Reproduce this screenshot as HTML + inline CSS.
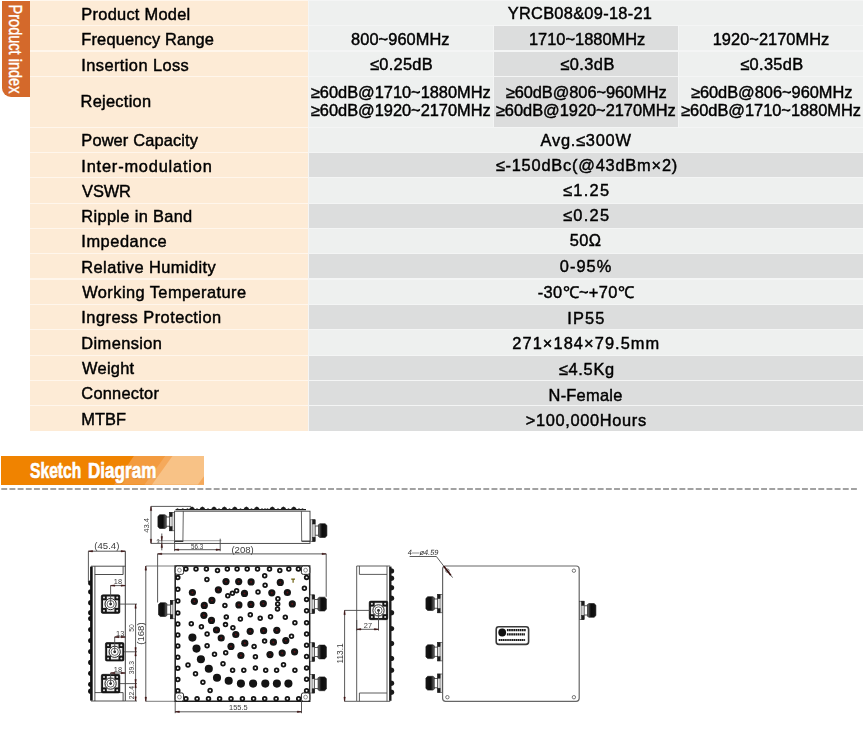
<!DOCTYPE html>
<html><head><meta charset="utf-8"><title>Product index</title>
<style>
html,body{margin:0;padding:0;background:#fff}
#page{position:relative;width:865px;height:754px;overflow:hidden;background:#fff;font-family:"Liberation Sans",sans-serif}
.c{position:absolute}
#lab{position:absolute;left:30.3px;top:0;width:278.0px;height:431.3px;background:#fff6ec}
#val{position:absolute;left:308.3px;top:0;width:554.9000000000001px;height:431.3px;background:#f4f5f5}
.t{position:absolute;white-space:nowrap;font-size:16.4px;line-height:1;color:#000;-webkit-text-stroke:0.45px #000}
#tab{position:absolute;left:1.5px;top:0.5px;width:28.5px;height:96.5px;background:#d4692b;border-radius:0 0 0 9px}
#tab span{position:absolute;left:calc(50% - 1.3px);top:50%;color:#fff;font-size:17.5px;white-space:nowrap;line-height:1;-webkit-text-stroke:0.4px #fff;transform:translate(-50%,-50%) rotate(90deg) scaleX(0.83)}
#ban{position:absolute;left:1px;top:456.1px;width:203.4px;height:28.8px;background:#f08300;overflow:hidden}
#ban i{position:absolute;top:0;height:100%;display:block}
#ban b{position:absolute;left:0;top:3.5px;color:#fff;font-size:22.2px;line-height:1;white-space:nowrap;-webkit-text-stroke:0.7px #fff;text-shadow:0.5px 0.7px 0.8px rgba(190,95,0,.5)}
#ban b span{position:absolute;top:0;display:block;transform-origin:0 50%}
#ban .w1{left:29.3px;transform:scaleX(0.705)}
#ban .w2{left:86.8px;transform:scaleX(0.77)}
#dash{position:absolute;left:0;top:486.3px}
#draw{position:absolute;left:0;top:0}
#txt{position:absolute;left:0;top:0;width:865px;height:440px;will-change:transform}
</style></head><body>
<div id="page">
<div id="tab"><span>Product index</span></div>
<div id="lab"></div><div id="val"></div>
<div class="c" style="top:0.70px;height:24.40px;left:308.90px;width:554.30px;background:#eef0ef"></div>
<div class="c" style="top:0.70px;height:24.40px;left:30.30px;width:277.60px;background:#fdebd6"></div>
<div class="c" style="top:26.10px;height:24.40px;left:308.90px;width:184.40px;background:#eef0ef"></div>
<div class="c" style="top:26.10px;height:24.40px;left:494.10px;width:183.80px;background:#dcdddd"></div>
<div class="c" style="top:26.10px;height:24.40px;left:678.90px;width:184.30px;background:#eef0ef"></div>
<div class="c" style="top:26.10px;height:24.40px;left:30.30px;width:277.60px;background:#fdebd6"></div>
<div class="c" style="top:51.50px;height:24.30px;left:308.90px;width:184.40px;background:#eef0ef"></div>
<div class="c" style="top:51.50px;height:24.30px;left:494.10px;width:183.80px;background:#dcdddd"></div>
<div class="c" style="top:51.50px;height:24.30px;left:678.90px;width:184.30px;background:#eef0ef"></div>
<div class="c" style="top:51.50px;height:24.30px;left:30.30px;width:277.60px;background:#fdebd6"></div>
<div class="c" style="top:76.80px;height:49.90px;left:308.90px;width:184.40px;background:#eef0ef"></div>
<div class="c" style="top:76.80px;height:49.90px;left:494.10px;width:183.80px;background:#dcdddd"></div>
<div class="c" style="top:76.80px;height:49.90px;left:678.90px;width:184.30px;background:#eef0ef"></div>
<div class="c" style="top:76.80px;height:49.90px;left:30.30px;width:277.60px;background:#fdebd6"></div>
<div class="c" style="top:127.70px;height:24.30px;left:308.90px;width:554.30px;background:#eef0ef"></div>
<div class="c" style="top:127.70px;height:24.30px;left:30.30px;width:277.60px;background:#fdebd6"></div>
<div class="c" style="top:153.00px;height:24.30px;left:308.90px;width:554.30px;background:#dcdddd"></div>
<div class="c" style="top:153.00px;height:24.30px;left:30.30px;width:277.60px;background:#fdebd6"></div>
<div class="c" style="top:178.30px;height:24.40px;left:308.90px;width:554.30px;background:#eef0ef"></div>
<div class="c" style="top:178.30px;height:24.40px;left:30.30px;width:277.60px;background:#fdebd6"></div>
<div class="c" style="top:203.70px;height:24.30px;left:308.90px;width:554.30px;background:#dcdddd"></div>
<div class="c" style="top:203.70px;height:24.30px;left:30.30px;width:277.60px;background:#fdebd6"></div>
<div class="c" style="top:229.00px;height:24.30px;left:308.90px;width:554.30px;background:#eef0ef"></div>
<div class="c" style="top:229.00px;height:24.30px;left:30.30px;width:277.60px;background:#fdebd6"></div>
<div class="c" style="top:254.30px;height:24.20px;left:308.90px;width:554.30px;background:#dcdddd"></div>
<div class="c" style="top:254.30px;height:24.20px;left:30.30px;width:277.60px;background:#fdebd6"></div>
<div class="c" style="top:279.50px;height:24.20px;left:308.90px;width:554.30px;background:#eef0ef"></div>
<div class="c" style="top:279.50px;height:24.20px;left:30.30px;width:277.60px;background:#fdebd6"></div>
<div class="c" style="top:304.70px;height:24.30px;left:308.90px;width:554.30px;background:#dcdddd"></div>
<div class="c" style="top:304.70px;height:24.30px;left:30.30px;width:277.60px;background:#fdebd6"></div>
<div class="c" style="top:330.00px;height:24.50px;left:308.90px;width:554.30px;background:#eef0ef"></div>
<div class="c" style="top:330.00px;height:24.50px;left:30.30px;width:277.60px;background:#fdebd6"></div>
<div class="c" style="top:355.50px;height:24.30px;left:308.90px;width:554.30px;background:#dcdddd"></div>
<div class="c" style="top:355.50px;height:24.30px;left:30.30px;width:277.60px;background:#fdebd6"></div>
<div class="c" style="top:380.80px;height:24.40px;left:308.90px;width:554.30px;background:#dcdddd"></div>
<div class="c" style="top:380.80px;height:24.40px;left:30.30px;width:277.60px;background:#fdebd6"></div>
<div class="c" style="top:406.20px;height:24.60px;left:308.90px;width:554.30px;background:#dcdddd"></div>
<div class="c" style="top:406.20px;height:24.60px;left:30.30px;width:277.60px;background:#fdebd6"></div>
<div id="txt">
<span class="t" id="t0" style="left:81.32px;top:5.92px;letter-spacing:0.270px">Product Model</span>
<span class="t" id="t1" style="left:81.32px;top:31.32px;letter-spacing:0.167px">Frequency Range</span>
<span class="t" id="t2" style="left:81.32px;top:56.82px;letter-spacing:0.415px">Insertion Loss</span>
<span class="t" id="t3" style="left:80.56px;top:92.62px;letter-spacing:0.270px">Rejection</span>
<span class="t" id="t4" style="left:81.32px;top:132.22px;letter-spacing:0.138px">Power Capacity</span>
<span class="t" id="t5" style="left:81.32px;top:157.62px;letter-spacing:0.804px">Inter-modulation</span>
<span class="t" id="t6" style="left:82.10px;top:182.92px;letter-spacing:-0.120px">VSWR</span>
<span class="t" id="t7" style="left:81.32px;top:208.22px;letter-spacing:0.332px">Ripple in Band</span>
<span class="t" id="t8" style="left:81.32px;top:233.42px;letter-spacing:0.540px">Impedance</span>
<span class="t" id="t9" style="left:81.32px;top:258.82px;letter-spacing:0.428px">Relative Humidity</span>
<span class="t" id="t10" style="left:82.22px;top:283.92px;letter-spacing:0.430px">Working Temperature</span>
<span class="t" id="t11" style="left:81.32px;top:309.32px;letter-spacing:0.455px">Ingress Protection</span>
<span class="t" id="t12" style="left:81.32px;top:334.72px;letter-spacing:0.405px">Dimension</span>
<span class="t" id="t13" style="left:82.10px;top:360.02px;letter-spacing:0.252px">Weight</span>
<span class="t" id="t14" style="left:81.32px;top:385.22px;letter-spacing:0.248px">Connector</span>
<span class="t" id="t15" style="left:81.32px;top:410.62px;letter-spacing:0.000px">MTBF</span>
<span class="t" id="t16" style="left:507.70px;top:5.12px;letter-spacing:0.283px">YRCB08&amp;09-18-21</span>
<span class="t" id="t17" style="left:351.08px;top:31.22px;letter-spacing:0.060px">800~960MHz</span>
<span class="t" id="t18" style="left:528.96px;top:31.22px;letter-spacing:0.016px">1710~1880MHz</span>
<span class="t" id="t19" style="left:712.70px;top:31.22px;letter-spacing:0.033px">1920~2170MHz</span>
<span class="t" id="t20" style="left:369.96px;top:56.22px;letter-spacing:0.300px">≤0.25dB</span>
<span class="t" id="t21" style="left:560.34px;top:56.22px;letter-spacing:0.432px">≤0.3dB</span>
<span class="t" id="t22" style="left:740.34px;top:56.22px;letter-spacing:0.300px">≤0.35dB</span>
<span class="t" id="t23" style="left:310.84px;top:83.72px;letter-spacing:-0.011px">≥60dB@1710~1880MHz</span>
<span class="t" id="t24" style="left:310.84px;top:102.02px;letter-spacing:-0.011px">≥60dB@1920~2170MHz</span>
<span class="t" id="t25" style="left:505.72px;top:83.72px;letter-spacing:-0.060px">≥60dB@806~960MHz</span>
<span class="t" id="t26" style="left:495.84px;top:102.02px;letter-spacing:-0.011px">≥60dB@1920~2170MHz</span>
<span class="t" id="t27" style="left:690.96px;top:83.72px;letter-spacing:-0.024px">≥60dB@806~960MHz</span>
<span class="t" id="t28" style="left:681.08px;top:102.02px;letter-spacing:-0.011px">≥60dB@1710~1880MHz</span>
<span class="t" id="t29" style="left:540.60px;top:131.82px;letter-spacing:0.743px">Avg.≤300W</span>
<span class="t" id="t30" style="left:495.70px;top:157.32px;letter-spacing:0.784px">≤-150dBc(@43dBm×2)</span>
<span class="t" id="t31" style="left:562.96px;top:182.02px;letter-spacing:1.305px">≤1.25</span>
<span class="t" id="t32" style="left:562.96px;top:207.12px;letter-spacing:1.305px">≤0.25</span>
<span class="t" id="t33" style="left:569.70px;top:232.32px;letter-spacing:0.450px">50Ω</span>
<span class="t" id="t34" style="left:559.84px;top:257.52px;letter-spacing:1.035px">0-95%</span>
<span class="t" id="t35" style="left:537.70px;top:283.92px;letter-spacing:0.382px">-30℃~+70℃</span>
<span class="t" id="t36" style="left:567.32px;top:309.72px;letter-spacing:1.140px">IP55</span>
<span class="t" id="t37" style="left:512.34px;top:335.22px;letter-spacing:1.066px">271×184×79.5mm</span>
<span class="t" id="t38" style="left:558.72px;top:360.82px;letter-spacing:0.720px">≤4.5Kg</span>
<span class="t" id="t39" style="left:548.56px;top:386.72px;letter-spacing:0.257px">N-Female</span>
<span class="t" id="t40" style="left:525.70px;top:411.82px;letter-spacing:0.660px">&gt;100,000Hours</span>
</div>
<div id="ban"><svg width="203.4" height="28.8" viewBox="0 0 203.4 28.8" style="position:absolute;left:0;top:0">
<polygon points="113,28.8 132.9,0 203.4,0 203.4,28.8" fill="#f39b3f"/>
<polygon points="143.5,28.8 164.2,0 203.4,0 203.4,28.8" fill="#f5a95b"/>
<polygon points="150.9,28.8 171.5,0 203.4,0 203.4,28.8" fill="#f8c286"/>
<polygon points="196.7,28.8 203.4,19.6 203.4,28.8" fill="#f5a95b"/>
</svg><b><span class="w1">Sketch</span> <span class="w2">Diagram</span></b></div>
<svg id="dash" width="865" height="6" viewBox="0 0 865 6"><line x1="1.3" y1="3" x2="857" y2="3" stroke="#a2a2a2" stroke-width="2.2" stroke-dasharray="5.9 2.27"/></svg>
<svg id="draw" style="filter:blur(0.35px)" width="865" height="754" viewBox="0 0 865 754" fill="none" font-family="Liberation Sans, sans-serif">
<defs><linearGradient id="nr" x1="0" x2="1"><stop offset="0" stop-color="#777"/><stop offset="0.3" stop-color="#222"/><stop offset="0.45" stop-color="#0c0c0c"/><stop offset="1" stop-color="#161616"/></linearGradient><linearGradient id="nl" x1="1" x2="0"><stop offset="0" stop-color="#777"/><stop offset="0.3" stop-color="#222"/><stop offset="0.45" stop-color="#0c0c0c"/><stop offset="1" stop-color="#161616"/></linearGradient></defs>
<g id="topview">
<path d="M175.6 509.7H306" stroke="#1c1c1c" stroke-width="1.3"/>
<path d="M189.0 509.8q0.4 -2.6 3 -3.4q2.6 0.8 3 3.4z" fill="#1c1c1c"/>
<path d="M199.4 509.8q0.4 -2.6 3 -3.4q2.6 0.8 3 3.4z" fill="#1c1c1c"/>
<path d="M211.0 509.8q0.4 -2.6 3 -3.4q2.6 0.8 3 3.4z" fill="#1c1c1c"/>
<path d="M221.4 509.8q0.4 -2.6 3 -3.4q2.6 0.8 3 3.4z" fill="#1c1c1c"/>
<path d="M231.8 509.8q0.4 -2.6 3 -3.4q2.6 0.8 3 3.4z" fill="#1c1c1c"/>
<path d="M243.4 509.8q0.4 -2.6 3 -3.4q2.6 0.8 3 3.4z" fill="#1c1c1c"/>
<path d="M253.8 509.8q0.4 -2.6 3 -3.4q2.6 0.8 3 3.4z" fill="#1c1c1c"/>
<path d="M269.3 509.8q0.4 -2.6 3 -3.4q2.6 0.8 3 3.4z" fill="#1c1c1c"/>
<path d="M280.4 509.8q0.4 -2.6 3 -3.4q2.6 0.8 3 3.4z" fill="#1c1c1c"/>
<path d="M290.8 509.8q0.4 -2.6 3 -3.4q2.6 0.8 3 3.4z" fill="#1c1c1c"/>
<path d="M175.7 509.8q1.8 -3 3.6 0z" fill="#222"/>
<path d="M181.0 509.8q1.8 -3 3.6 0z" fill="#222"/>
<path d="M185.7 509.8q1.8 -3 3.6 0z" fill="#222"/>
<path d="M195.2 509.8q1.8 -3 3.6 0z" fill="#222"/>
<path d="M206.2 509.8q1.8 -3 3.6 0z" fill="#222"/>
<path d="M217.2 509.8q1.8 -3 3.6 0z" fill="#222"/>
<path d="M227.7 509.8q1.8 -3 3.6 0z" fill="#222"/>
<path d="M238.7 509.8q1.8 -3 3.6 0z" fill="#222"/>
<path d="M249.7 509.8q1.8 -3 3.6 0z" fill="#222"/>
<path d="M260.2 509.8q1.8 -3 3.6 0z" fill="#222"/>
<path d="M263.2 509.8q1.8 -3 3.6 0z" fill="#222"/>
<path d="M265.7 509.8q1.8 -3 3.6 0z" fill="#222"/>
<path d="M276.2 509.8q1.8 -3 3.6 0z" fill="#222"/>
<path d="M286.7 509.8q1.8 -3 3.6 0z" fill="#222"/>
<path d="M297.2 509.8q1.8 -3 3.6 0z" fill="#222"/>
<path d="M300.7 509.8q1.8 -3 3.6 0z" fill="#222"/>
<rect x="174.6" y="511.2" width="135.4" height="32.2" rx="0" fill="none" stroke="#3c3c3c" stroke-width="0.9"/>
<path d="M183.3 511.2L182.9 541.0" stroke="#3c3c3c" stroke-width="0.8"/>
<path d="M301.4 511.2L301.7 541.0" stroke="#3c3c3c" stroke-width="0.8"/>
<path d="M174.6 541.2L183.3 541.2" stroke="#111" stroke-width="1.4"/>
<path d="M301.5 541.2L310.0 541.2" stroke="#222" stroke-width="1.2"/>
<path d="M166.4 515.7L164.8 514.7L159.7 514.7L157.9 516.4V526.8L159.7 528.5L164.8 528.5L166.4 527.5Z" fill="url(#nl)" stroke="#161616" stroke-width="0.6"/>
<rect x="166.2" y="517.0" width="3.7" height="9.2" rx="0" fill="#fff" stroke="#333" stroke-width="0.8"/>
<rect x="169.7" y="512.4" width="4.7" height="18.4" rx="0" fill="#dcdcdc" stroke="#333" stroke-width="0.6"/>
<path d="M172.1 512.4L172.1 530.8" stroke="#555" stroke-width="0.5"/>
<rect x="169.7" y="512.4" width="2.4" height="4.2" rx="0" fill="#1c1c1c" stroke="#1c1c1c" stroke-width="0.5"/>
<rect x="169.7" y="526.6" width="2.4" height="4.2" rx="0" fill="#1c1c1c" stroke="#1c1c1c" stroke-width="0.5"/>
<path d="M318.4 524.7L320.0 523.7L325.1 523.7L326.9 525.4V535.8L325.1 537.5L320.0 537.5L318.4 536.5Z" fill="url(#nr)" stroke="#161616" stroke-width="0.6"/>
<rect x="314.9" y="526.0" width="3.7" height="9.2" rx="0" fill="#fff" stroke="#333" stroke-width="0.8"/>
<rect x="310.4" y="519.8" width="4.7" height="21.6" rx="0" fill="#dcdcdc" stroke="#333" stroke-width="0.6"/>
<path d="M312.7 519.8L312.7 541.4" stroke="#555" stroke-width="0.5"/>
<rect x="312.7" y="519.8" width="2.4" height="4.2" rx="0" fill="#1c1c1c" stroke="#1c1c1c" stroke-width="0.5"/>
<rect x="312.7" y="537.2" width="2.4" height="4.2" rx="0" fill="#1c1c1c" stroke="#1c1c1c" stroke-width="0.5"/>
<path d="M151.0 506.4L151.0 543.4" stroke="#474747" stroke-width="0.9"/>
<path d="M151.0 506.4l-0.7 4.2h1.4z" fill="#3d1212" stroke="#3d1212" stroke-width="0.5"/>
<path d="M151.0 543.4l-0.7 -4.2h1.4z" fill="#3d1212" stroke="#3d1212" stroke-width="0.5"/>
<path d="M151.0 506.4L191.0 506.4" stroke="#474747" stroke-width="0.9"/>
<path d="M151.0 543.4L174.6 543.4" stroke="#474747" stroke-width="0.9"/>
<text x="148.6" y="525.3" font-size="7.6" text-anchor="middle" fill="#3c3c3c" transform="rotate(-90 148.6 525.3)">43.4</text>
<path d="M156.6 540.7L221.3 540.7" stroke="#777" stroke-width="0.7"/>
<path d="M161.8 533.5L161.8 550.3" stroke="#474747" stroke-width="0.9"/>
<path d="M161.8 540.7l-0.7 -4.2h1.4z" fill="#3d1212" stroke="#3d1212" stroke-width="0.5"/>
<path d="M161.8 543.4l-0.7 4.2h1.4z" fill="#3d1212" stroke="#3d1212" stroke-width="0.5"/>
<text x="158.3" y="542.6" font-size="4.5" text-anchor="middle" fill="#3c3c3c">3</text>
<path d="M174.6 543.4L174.6 551.2" stroke="#474747" stroke-width="0.9"/>
<path d="M220.2 538.7L220.2 551.2" stroke="#474747" stroke-width="0.9"/>
<path d="M174.6 549.7L220.2 549.7" stroke="#474747" stroke-width="0.9"/>
<path d="M174.6 549.7l4.2 -0.7v1.4z" fill="#3d1212" stroke="#3d1212" stroke-width="0.5"/>
<path d="M220.2 549.7l-4.2 -0.7v1.4z" fill="#3d1212" stroke="#3d1212" stroke-width="0.5"/>
<text x="197.2" y="548.7" font-size="6.3" text-anchor="middle" fill="#3c3c3c">56.3</text>
<text x="242.6" y="552.5" font-size="9.6" text-anchor="middle" fill="#3c3c3c">(208)</text>
<path d="M157.6 553.9L326.2 553.9" stroke="#474747" stroke-width="0.9"/>
<path d="M157.6 553.9l4.2 -0.7v1.4z" fill="#3d1212" stroke="#3d1212" stroke-width="0.5"/>
<path d="M326.2 553.9l-4.2 -0.7v1.4z" fill="#3d1212" stroke="#3d1212" stroke-width="0.5"/>
<path d="M157.6 553.9L157.6 602.5" stroke="#474747" stroke-width="0.9"/>
<path d="M326.2 553.9L326.2 596.8" stroke="#474747" stroke-width="0.9"/>
</g>
<g id="front">
<path d="M145.8 566.0L175.0 566.0" stroke="#5a5a5a" stroke-width="0.8"/>
<path d="M145.8 701.3L175.0 701.3" stroke="#5a5a5a" stroke-width="0.8"/>
<path d="M175.2 566H309.7V701.2H175.2Z" fill="#fff" stroke="#1e1e1e" stroke-width="1.5"/>
<path d="M167.0 603.7L165.4 602.7L160.3 602.7L158.5 604.4V614.8L160.3 616.5L165.4 616.5L167.0 615.5Z" fill="url(#nl)" stroke="#161616" stroke-width="0.6"/>
<rect x="166.8" y="605.0" width="3.7" height="9.2" rx="0" fill="#fff" stroke="#333" stroke-width="0.8"/>
<rect x="170.3" y="600.4" width="4.7" height="18.4" rx="0" fill="#dcdcdc" stroke="#333" stroke-width="0.6"/>
<path d="M172.7 600.4L172.7 618.8" stroke="#555" stroke-width="0.5"/>
<rect x="170.3" y="600.4" width="2.4" height="4.2" rx="0" fill="#1c1c1c" stroke="#1c1c1c" stroke-width="0.5"/>
<rect x="170.3" y="614.6" width="2.4" height="4.2" rx="0" fill="#1c1c1c" stroke="#1c1c1c" stroke-width="0.5"/>
<path d="M317.9 598.2L319.5 597.2L324.6 597.2L326.4 598.9V609.3L324.6 611.0L319.5 611.0L317.9 610.0Z" fill="url(#nr)" stroke="#161616" stroke-width="0.6"/>
<rect x="314.4" y="599.5" width="3.7" height="9.2" rx="0" fill="#fff" stroke="#333" stroke-width="0.8"/>
<rect x="309.9" y="594.9" width="4.7" height="18.4" rx="0" fill="#dcdcdc" stroke="#333" stroke-width="0.6"/>
<path d="M312.2 594.9L312.2 613.3" stroke="#555" stroke-width="0.5"/>
<rect x="312.2" y="594.9" width="2.4" height="4.2" rx="0" fill="#1c1c1c" stroke="#1c1c1c" stroke-width="0.5"/>
<rect x="312.2" y="609.1" width="2.4" height="4.2" rx="0" fill="#1c1c1c" stroke="#1c1c1c" stroke-width="0.5"/>
<path d="M317.9 646.1L319.5 645.1L324.6 645.1L326.4 646.8V657.2L324.6 658.9L319.5 658.9L317.9 657.9Z" fill="url(#nr)" stroke="#161616" stroke-width="0.6"/>
<rect x="314.4" y="647.4" width="3.7" height="9.2" rx="0" fill="#fff" stroke="#333" stroke-width="0.8"/>
<rect x="309.9" y="642.8" width="4.7" height="18.4" rx="0" fill="#dcdcdc" stroke="#333" stroke-width="0.6"/>
<path d="M312.2 642.8L312.2 661.2" stroke="#555" stroke-width="0.5"/>
<rect x="312.2" y="642.8" width="2.4" height="4.2" rx="0" fill="#1c1c1c" stroke="#1c1c1c" stroke-width="0.5"/>
<rect x="312.2" y="657.0" width="2.4" height="4.2" rx="0" fill="#1c1c1c" stroke="#1c1c1c" stroke-width="0.5"/>
<path d="M317.9 677.9L319.5 676.9L324.6 676.9L326.4 678.6V689.0L324.6 690.7L319.5 690.7L317.9 689.7Z" fill="url(#nr)" stroke="#161616" stroke-width="0.6"/>
<rect x="314.4" y="679.2" width="3.7" height="9.2" rx="0" fill="#fff" stroke="#333" stroke-width="0.8"/>
<rect x="309.9" y="674.6" width="4.7" height="18.4" rx="0" fill="#dcdcdc" stroke="#333" stroke-width="0.6"/>
<path d="M312.2 674.6L312.2 693.0" stroke="#555" stroke-width="0.5"/>
<rect x="312.2" y="674.6" width="2.4" height="4.2" rx="0" fill="#1c1c1c" stroke="#1c1c1c" stroke-width="0.5"/>
<rect x="312.2" y="688.8" width="2.4" height="4.2" rx="0" fill="#1c1c1c" stroke="#1c1c1c" stroke-width="0.5"/>
<g fill="#fff" stroke="#141414" stroke-width="1.8">
<circle cx="206.9" cy="579.5" r="1.85"/>
<circle cx="227.8" cy="595.7" r="1.85"/>
<circle cx="232.4" cy="593.2" r="1.85"/>
<circle cx="236.6" cy="590.7" r="1.85"/>
<circle cx="224.9" cy="605.4" r="1.85"/>
<circle cx="226.3" cy="616.9" r="1.85"/>
<circle cx="240.4" cy="619" r="1.85"/>
<circle cx="191.3" cy="623.8" r="1.85"/>
<circle cx="201.4" cy="626.8" r="1.85"/>
<circle cx="225.5" cy="624.6" r="1.85"/>
<circle cx="232.9" cy="627.8" r="1.85"/>
<circle cx="207.1" cy="634" r="1.85"/>
<circle cx="264.7" cy="575.7" r="1.85"/>
<circle cx="265.1" cy="585.3" r="1.85"/>
<circle cx="258" cy="592" r="1.85"/>
<circle cx="277.9" cy="598.8" r="1.85"/>
<circle cx="277.7" cy="603.9" r="1.85"/>
<circle cx="277.5" cy="608.9" r="1.85"/>
<circle cx="250.3" cy="614.8" r="1.85"/>
<circle cx="260.2" cy="618.3" r="1.85"/>
<circle cx="270.5" cy="616.7" r="1.85"/>
<circle cx="285.3" cy="617.2" r="1.85"/>
<circle cx="294.9" cy="622.7" r="1.85"/>
<circle cx="291.5" cy="636.2" r="1.85"/>
<circle cx="207.1" cy="645.7" r="1.85"/>
<circle cx="214.5" cy="654.2" r="1.85"/>
<circle cx="225.7" cy="652.8" r="1.85"/>
<circle cx="223" cy="663.7" r="1.85"/>
<circle cx="188" cy="665" r="1.85"/>
<circle cx="195.5" cy="673.7" r="1.85"/>
<circle cx="232.6" cy="670.3" r="1.85"/>
<circle cx="243.8" cy="670.3" r="1.85"/>
<circle cx="202.9" cy="682.2" r="1.85"/>
<circle cx="210.1" cy="690.5" r="1.85"/>
<circle cx="264.6" cy="641.1" r="1.85"/>
<circle cx="254.1" cy="646.4" r="1.85"/>
<circle cx="255.4" cy="656.7" r="1.85"/>
<circle cx="283.5" cy="664.7" r="1.85"/>
<circle cx="255.4" cy="668" r="1.85"/>
<circle cx="265.7" cy="670.3" r="1.85"/>
<circle cx="276.6" cy="670.3" r="1.85"/>
<circle cx="294.9" cy="670.3" r="1.85"/>
<circle cx="185.9" cy="569" r="1.85"/>
<circle cx="196" cy="569" r="1.85"/>
<circle cx="206.4" cy="569" r="1.85"/>
<circle cx="227.3" cy="569" r="1.85"/>
<circle cx="237.1" cy="569" r="1.85"/>
<circle cx="247.2" cy="569" r="1.85"/>
<circle cx="257.5" cy="569" r="1.85"/>
<circle cx="269.5" cy="569" r="1.85"/>
<circle cx="288.8" cy="569" r="1.85"/>
<circle cx="298.4" cy="569" r="1.85"/>
<circle cx="217.5" cy="570.5" r="1.85"/>
<circle cx="279.8" cy="570.5" r="1.85"/>
<circle cx="185.9" cy="698.8" r="1.85"/>
<circle cx="197.1" cy="698.8" r="1.85"/>
<circle cx="208.5" cy="698.8" r="1.85"/>
<circle cx="219.6" cy="698.8" r="1.85"/>
<circle cx="231" cy="698.8" r="1.85"/>
<circle cx="242.4" cy="698.8" r="1.85"/>
<circle cx="253.6" cy="698.8" r="1.85"/>
<circle cx="264.7" cy="698.8" r="1.85"/>
<circle cx="276.1" cy="698.8" r="1.85"/>
<circle cx="287.4" cy="698.8" r="1.85"/>
<circle cx="298.7" cy="698.8" r="1.85"/>
<circle cx="177.8" cy="577.6" r="1.85"/>
<circle cx="177.8" cy="589.3" r="1.85"/>
<circle cx="177.8" cy="601" r="1.85"/>
<circle cx="177.8" cy="612.9" r="1.85"/>
<circle cx="177.8" cy="624" r="1.85"/>
<circle cx="177.8" cy="635" r="1.85"/>
<circle cx="177.8" cy="645.9" r="1.85"/>
<circle cx="177.8" cy="657.3" r="1.85"/>
<circle cx="177.8" cy="668.2" r="1.85"/>
<circle cx="177.8" cy="679.5" r="1.85"/>
<circle cx="177.8" cy="690.7" r="1.85"/>
<circle cx="306.6" cy="577.4" r="1.85"/>
<circle cx="306.6" cy="599.4" r="1.85"/>
<circle cx="306.6" cy="610.7" r="1.85"/>
<circle cx="306.6" cy="622.7" r="1.85"/>
<circle cx="306.6" cy="634" r="1.85"/>
<circle cx="306.6" cy="645.2" r="1.85"/>
<circle cx="306.6" cy="656.5" r="1.85"/>
<circle cx="306.6" cy="667.9" r="1.85"/>
<circle cx="306.6" cy="679.3" r="1.85"/>
<circle cx="306.6" cy="690.7" r="1.85"/>
<circle cx="304.4" cy="588.2" r="1.85"/>
</g>
<g fill="#141414">
<circle cx="226" cy="581.6" r="3.6"/>
<circle cx="238.7" cy="581.6" r="3.6"/>
<circle cx="218.4" cy="589.8" r="3.6"/>
<circle cx="192.4" cy="592.5" r="3.6"/>
<circle cx="244.5" cy="593.4" r="3.6"/>
<circle cx="194.4" cy="601.3" r="3.6"/>
<circle cx="211.9" cy="600.4" r="3.6"/>
<circle cx="204.3" cy="605.4" r="3.6"/>
<circle cx="238.9" cy="604.9" r="3.6"/>
<circle cx="203.9" cy="615.3" r="3.6"/>
<circle cx="211.5" cy="620.4" r="3.6"/>
<circle cx="216.5" cy="630" r="3.6"/>
<circle cx="235.8" cy="634.5" r="3.6"/>
<circle cx="221.2" cy="638" r="3.6"/>
<circle cx="251.1" cy="581.9" r="3.6"/>
<circle cx="280.3" cy="582.4" r="3.6"/>
<circle cx="271.8" cy="592.8" r="3.6"/>
<circle cx="287.4" cy="592.5" r="3.6"/>
<circle cx="250.9" cy="604.4" r="3.6"/>
<circle cx="263.3" cy="603.6" r="3.6"/>
<circle cx="292.3" cy="603.9" r="3.6"/>
<circle cx="250.2" cy="631.3" r="3.6"/>
<circle cx="263.6" cy="630.7" r="3.6"/>
<circle cx="276.8" cy="630.3" r="3.6"/>
<circle cx="231" cy="646.4" r="3.6"/>
<circle cx="240.9" cy="655.5" r="3.6"/>
<circle cx="244.8" cy="643.2" r="3.6"/>
<circle cx="273.4" cy="642.2" r="3.6"/>
<circle cx="285.8" cy="640.6" r="3.6"/>
<circle cx="270" cy="654.6" r="3.6"/>
<circle cx="282.2" cy="653.1" r="3.6"/>
<circle cx="294.6" cy="651.8" r="3.6"/>
<circle cx="192.4" cy="637.6" r="4.05"/>
<circle cx="196.5" cy="648.6" r="4.05"/>
<circle cx="200.9" cy="659.2" r="4.05"/>
<circle cx="208.8" cy="668.7" r="4.05"/>
<circle cx="217" cy="677.7" r="4.05"/>
<circle cx="228.7" cy="680.7" r="4.05"/>
<circle cx="240.9" cy="683.6" r="4.05"/>
<circle cx="253.1" cy="683.6" r="4.05"/>
<circle cx="265.3" cy="683.6" r="4.05"/>
<circle cx="276.9" cy="683.6" r="4.05"/>
<circle cx="288.4" cy="683.6" r="4.05"/>
</g><g fill="#5c1216">
<circle cx="226" cy="581.6" r="0.95"/>
<circle cx="238.7" cy="581.6" r="0.95"/>
<circle cx="218.4" cy="589.8" r="0.95"/>
<circle cx="192.4" cy="592.5" r="0.95"/>
<circle cx="244.5" cy="593.4" r="0.95"/>
<circle cx="194.4" cy="601.3" r="0.95"/>
<circle cx="211.9" cy="600.4" r="0.95"/>
<circle cx="204.3" cy="605.4" r="0.95"/>
<circle cx="238.9" cy="604.9" r="0.95"/>
<circle cx="203.9" cy="615.3" r="0.95"/>
<circle cx="211.5" cy="620.4" r="0.95"/>
<circle cx="216.5" cy="630" r="0.95"/>
<circle cx="235.8" cy="634.5" r="0.95"/>
<circle cx="221.2" cy="638" r="0.95"/>
<circle cx="251.1" cy="581.9" r="0.95"/>
<circle cx="280.3" cy="582.4" r="0.95"/>
<circle cx="271.8" cy="592.8" r="0.95"/>
<circle cx="287.4" cy="592.5" r="0.95"/>
<circle cx="250.9" cy="604.4" r="0.95"/>
<circle cx="263.3" cy="603.6" r="0.95"/>
<circle cx="292.3" cy="603.9" r="0.95"/>
<circle cx="250.2" cy="631.3" r="0.95"/>
<circle cx="263.6" cy="630.7" r="0.95"/>
<circle cx="276.8" cy="630.3" r="0.95"/>
<circle cx="231" cy="646.4" r="0.95"/>
<circle cx="240.9" cy="655.5" r="0.95"/>
<circle cx="244.8" cy="643.2" r="0.95"/>
<circle cx="273.4" cy="642.2" r="0.95"/>
<circle cx="285.8" cy="640.6" r="0.95"/>
<circle cx="270" cy="654.6" r="0.95"/>
<circle cx="282.2" cy="653.1" r="0.95"/>
<circle cx="294.6" cy="651.8" r="0.95"/>
</g>
<rect x="175.2" y="566.0" width="8.4" height="8.4" rx="2" fill="#fff" stroke="#222" stroke-width="1.0"/>
<circle cx="179.39999999999998" cy="570.2" r="1.9" fill="#fff" stroke="#666" stroke-width="0.7"/>
<rect x="301.4" y="566.0" width="8.4" height="8.4" rx="2" fill="#fff" stroke="#222" stroke-width="1.0"/>
<circle cx="305.59999999999997" cy="570.2" r="1.9" fill="#fff" stroke="#666" stroke-width="0.7"/>
<rect x="175.2" y="692.9" width="8.4" height="8.4" rx="2" fill="#fff" stroke="#222" stroke-width="1.0"/>
<circle cx="179.39999999999998" cy="697.1" r="1.9" fill="#fff" stroke="#666" stroke-width="0.7"/>
<rect x="301.4" y="692.9" width="8.4" height="8.4" rx="2" fill="#fff" stroke="#222" stroke-width="1.0"/>
<circle cx="305.59999999999997" cy="697.1" r="1.9" fill="#fff" stroke="#666" stroke-width="0.7"/>
<path d="M291.2 579.2h3.8M293.1 579.2v3.6" stroke="#6f6212" stroke-width="1.2"/>
<path d="M145.8 566.0L145.8 701.3" stroke="#474747" stroke-width="0.9"/>
<path d="M145.8 566.0l-0.7 4.2h1.4z" fill="#3d1212" stroke="#3d1212" stroke-width="0.5"/>
<path d="M145.8 701.3l-0.7 -4.2h1.4z" fill="#3d1212" stroke="#3d1212" stroke-width="0.5"/>
<text x="144.2" y="633.6" font-size="9.6" text-anchor="middle" fill="#3c3c3c" transform="rotate(-90 144.2 633.6)">(168)</text>
<path d="M175.2 701.2L175.2 713.2" stroke="#474747" stroke-width="0.9"/>
<path d="M301.5 701.2L301.5 713.2" stroke="#474747" stroke-width="0.9"/>
<path d="M175.2 711.8L301.5 711.8" stroke="#474747" stroke-width="0.9"/>
<path d="M175.2 711.8l4.2 -0.7v1.4z" fill="#3d1212" stroke="#3d1212" stroke-width="0.5"/>
<path d="M301.5 711.8l-4.2 -0.7v1.4z" fill="#3d1212" stroke="#3d1212" stroke-width="0.5"/>
<text x="238.3" y="710.4" font-size="7.4" text-anchor="middle" fill="#3c3c3c">155.5</text>
</g>
<g id="left">
<text x="106.8" y="549.4" font-size="9.6" text-anchor="middle" fill="#3c3c3c">(45.4)</text>
<path d="M88.4 551.2L125.3 551.2" stroke="#474747" stroke-width="0.9"/>
<path d="M88.4 551.2l4.2 -0.7v1.4z" fill="#3d1212" stroke="#3d1212" stroke-width="0.5"/>
<path d="M125.3 551.2l-4.2 -0.7v1.4z" fill="#3d1212" stroke="#3d1212" stroke-width="0.5"/>
<path d="M88.4 551.2L88.4 582.0" stroke="#474747" stroke-width="0.9"/>
<path d="M125.3 551.2L125.3 701.0" stroke="#3a3a3a" stroke-width="1.0"/>
<path d="M91 566.2H125.3M91 701H125.3M94.9 566.2V701M94.9 574.5H123.1V566.2M94.9 692.6H123.1V701" stroke="#3a3a3a" stroke-width="0.9"/>
<path d="M91.4 566.6V700.6" stroke="#111" stroke-width="2.6"/>
<path d="M90.8 580.3a2.7 2.6 0 0 0 0 5.2z" fill="#111"/>
<path d="M90.8 589.2a2.7 2.6 0 0 0 0 5.2z" fill="#111"/>
<path d="M90.8 600.1a2.7 2.6 0 0 0 0 5.2z" fill="#111"/>
<path d="M90.8 610.1a2.7 2.6 0 0 0 0 5.2z" fill="#111"/>
<path d="M90.8 616.0a2.7 2.6 0 0 0 0 5.2z" fill="#111"/>
<path d="M90.8 627.0a2.7 2.6 0 0 0 0 5.2z" fill="#111"/>
<path d="M90.8 637.9a2.7 2.6 0 0 0 0 5.2z" fill="#111"/>
<path d="M90.8 648.9a2.7 2.6 0 0 0 0 5.2z" fill="#111"/>
<path d="M90.8 659.8a2.7 2.6 0 0 0 0 5.2z" fill="#111"/>
<path d="M90.8 670.7a2.7 2.6 0 0 0 0 5.2z" fill="#111"/>
<path d="M90.8 681.7a2.7 2.6 0 0 0 0 5.2z" fill="#111"/>
<path d="M90.8 688.6a2.7 2.6 0 0 0 0 5.2z" fill="#111"/>
<rect x="101.3" y="594.8" width="18.6" height="18.6" rx="1.6" fill="#161616" stroke="#161616" stroke-width="0.6"/>
<rect x="103.0" y="596.5" width="15.2" height="15.2" rx="0" fill="#ececec" stroke="none" stroke-width="0"/>
<rect x="101.6" y="595.1" width="5.2" height="5.2" fill="#161616"/>
<circle cx="104.0" cy="597.5" r="1.0" fill="#e0e0e0"/>
<rect x="101.6" y="607.9" width="5.2" height="5.2" fill="#161616"/>
<circle cx="104.0" cy="610.7" r="1.0" fill="#e0e0e0"/>
<rect x="114.4" y="595.1" width="5.2" height="5.2" fill="#161616"/>
<circle cx="117.2" cy="597.5" r="1.0" fill="#e0e0e0"/>
<rect x="114.4" y="607.9" width="5.2" height="5.2" fill="#161616"/>
<circle cx="117.2" cy="610.7" r="1.0" fill="#e0e0e0"/>
<circle cx="110.6" cy="604.1" r="5.6" fill="#fff" stroke="#222" stroke-width="1.0"/>
<circle cx="110.6" cy="604.1" r="3.6" fill="none" stroke="#444" stroke-width="0.8"/>
<circle cx="110.6" cy="604.1" r="1.4" fill="#222"/>
<rect x="105.4" y="642.5" width="18.6" height="18.6" rx="1.6" fill="#161616" stroke="#161616" stroke-width="0.6"/>
<rect x="107.1" y="644.2" width="15.2" height="15.2" rx="0" fill="#ececec" stroke="none" stroke-width="0"/>
<rect x="105.7" y="642.8" width="5.2" height="5.2" fill="#161616"/>
<circle cx="108.1" cy="645.2" r="1.0" fill="#e0e0e0"/>
<rect x="105.7" y="655.6" width="5.2" height="5.2" fill="#161616"/>
<circle cx="108.1" cy="658.4" r="1.0" fill="#e0e0e0"/>
<rect x="118.5" y="642.8" width="5.2" height="5.2" fill="#161616"/>
<circle cx="121.3" cy="645.2" r="1.0" fill="#e0e0e0"/>
<rect x="118.5" y="655.6" width="5.2" height="5.2" fill="#161616"/>
<circle cx="121.3" cy="658.4" r="1.0" fill="#e0e0e0"/>
<circle cx="114.7" cy="651.8" r="5.6" fill="#fff" stroke="#222" stroke-width="1.0"/>
<circle cx="114.7" cy="651.8" r="3.6" fill="none" stroke="#444" stroke-width="0.8"/>
<circle cx="114.7" cy="651.8" r="1.4" fill="#222"/>
<rect x="101.3" y="674.3" width="18.6" height="18.6" rx="1.6" fill="#161616" stroke="#161616" stroke-width="0.6"/>
<rect x="103.0" y="676.0" width="15.2" height="15.2" rx="0" fill="#ececec" stroke="none" stroke-width="0"/>
<rect x="101.6" y="674.6" width="5.2" height="5.2" fill="#161616"/>
<circle cx="104.0" cy="677.0" r="1.0" fill="#e0e0e0"/>
<rect x="101.6" y="687.4" width="5.2" height="5.2" fill="#161616"/>
<circle cx="104.0" cy="690.2" r="1.0" fill="#e0e0e0"/>
<rect x="114.4" y="674.6" width="5.2" height="5.2" fill="#161616"/>
<circle cx="117.2" cy="677.0" r="1.0" fill="#e0e0e0"/>
<rect x="114.4" y="687.4" width="5.2" height="5.2" fill="#161616"/>
<circle cx="117.2" cy="690.2" r="1.0" fill="#e0e0e0"/>
<circle cx="110.6" cy="683.6" r="5.6" fill="#fff" stroke="#222" stroke-width="1.0"/>
<circle cx="110.6" cy="683.6" r="3.6" fill="none" stroke="#444" stroke-width="0.8"/>
<circle cx="110.6" cy="683.6" r="1.4" fill="#222"/>
<path d="M110.6 585.6L110.6 604.0" stroke="#474747" stroke-width="0.9"/>
<path d="M110.6 585.6L125.3 585.6" stroke="#474747" stroke-width="0.9"/>
<path d="M110.6 585.6l4.2 -0.7v1.4z" fill="#3d1212" stroke="#3d1212" stroke-width="0.5"/>
<path d="M125.3 585.6l-4.2 -0.7v1.4z" fill="#3d1212" stroke="#3d1212" stroke-width="0.5"/>
<text x="117.9" y="584.3" font-size="7.4" text-anchor="middle" fill="#3c3c3c">18</text>
<path d="M114.7 637.0L114.7 651.8" stroke="#474747" stroke-width="0.9"/>
<path d="M114.7 637.0L125.3 637.0" stroke="#474747" stroke-width="0.9"/>
<path d="M114.7 637.0l4.2 -0.7v1.4z" fill="#3d1212" stroke="#3d1212" stroke-width="0.5"/>
<path d="M125.3 637.0l-4.2 -0.7v1.4z" fill="#3d1212" stroke="#3d1212" stroke-width="0.5"/>
<text x="120.2" y="635.7" font-size="7.4" text-anchor="middle" fill="#3c3c3c">13</text>
<path d="M110.6 673.0L110.6 683.6" stroke="#474747" stroke-width="0.9"/>
<path d="M110.6 673.0L125.3 673.0" stroke="#474747" stroke-width="0.9"/>
<path d="M110.6 673.0l4.2 -0.7v1.4z" fill="#3d1212" stroke="#3d1212" stroke-width="0.5"/>
<path d="M125.3 673.0l-4.2 -0.7v1.4z" fill="#3d1212" stroke="#3d1212" stroke-width="0.5"/>
<text x="117.9" y="671.7" font-size="7.4" text-anchor="middle" fill="#3c3c3c">18</text>
<path d="M120.0 604.1L137.0 604.1" stroke="#474747" stroke-width="0.9"/>
<path d="M124.0 651.8L137.0 651.8" stroke="#474747" stroke-width="0.9"/>
<path d="M120.0 683.6L137.0 683.6" stroke="#474747" stroke-width="0.9"/>
<path d="M125.3 701.0L137.0 701.0" stroke="#474747" stroke-width="0.9"/>
<path d="M135.6 604.1L135.6 701.0" stroke="#474747" stroke-width="0.9"/>
<path d="M135.6 604.1l-0.7 4.2h1.4z" fill="#3d1212" stroke="#3d1212" stroke-width="0.5"/>
<path d="M135.6 651.8l-0.7 4.2h1.4z" fill="#3d1212" stroke="#3d1212" stroke-width="0.5"/>
<path d="M135.6 683.6l-0.7 4.2h1.4z" fill="#3d1212" stroke="#3d1212" stroke-width="0.5"/>
<path d="M135.6 651.8l-0.7 -4.2h1.4z" fill="#3d1212" stroke="#3d1212" stroke-width="0.5"/>
<path d="M135.6 683.6l-0.7 -4.2h1.4z" fill="#3d1212" stroke="#3d1212" stroke-width="0.5"/>
<path d="M135.6 701.0l-0.7 -4.2h1.4z" fill="#3d1212" stroke="#3d1212" stroke-width="0.5"/>
<text x="134.2" y="628.0" font-size="6.8" text-anchor="middle" fill="#3c3c3c" transform="rotate(-90 134.2 628.0)">50</text>
<text x="134.2" y="667.6" font-size="6.8" text-anchor="middle" fill="#3c3c3c" transform="rotate(-90 134.2 667.6)">39.3</text>
<text x="134.2" y="692.6" font-size="6.8" text-anchor="middle" fill="#3c3c3c" transform="rotate(-90 134.2 692.6)">22.4</text>
</g>
<g id="right">
<path d="M356.7 566H390.2M356.7 701.3H390.2M356.7 566V701.3M387 566V701.3M359.4 566V574.4H387M359.4 701.3V693H387" stroke="#4a4a4a" stroke-width="0.9"/>
<path d="M390.3 566.6V700.8" stroke="#1a1a1a" stroke-width="2.4"/>
<path d="M390.8 568.2a3.4 2.7 0 0 1 0 5.4z" fill="#1a1a1a"/>
<path d="M390.8 575.6a3.4 2.7 0 0 1 0 5.4z" fill="#1a1a1a"/>
<path d="M390.8 585.1a3.4 2.7 0 0 1 0 5.4z" fill="#1a1a1a"/>
<path d="M390.8 595.5a3.4 2.7 0 0 1 0 5.4z" fill="#1a1a1a"/>
<path d="M390.8 610.0a3.4 2.7 0 0 1 0 5.4z" fill="#1a1a1a"/>
<path d="M390.8 625.9a3.4 2.7 0 0 1 0 5.4z" fill="#1a1a1a"/>
<path d="M390.8 640.8a3.4 2.7 0 0 1 0 5.4z" fill="#1a1a1a"/>
<path d="M390.8 655.7a3.4 2.7 0 0 1 0 5.4z" fill="#1a1a1a"/>
<path d="M390.8 667.6a3.4 2.7 0 0 1 0 5.4z" fill="#1a1a1a"/>
<path d="M390.8 680.6a3.4 2.7 0 0 1 0 5.4z" fill="#1a1a1a"/>
<path d="M390.8 689.5a3.4 2.7 0 0 1 0 5.4z" fill="#1a1a1a"/>
<rect x="369.2" y="601.1" width="18.6" height="18.6" rx="1.6" fill="#161616" stroke="#161616" stroke-width="0.6"/>
<rect x="370.9" y="602.8" width="15.2" height="15.2" rx="0" fill="#ececec" stroke="none" stroke-width="0"/>
<rect x="369.5" y="601.4" width="5.2" height="5.2" fill="#161616"/>
<circle cx="371.9" cy="603.8" r="1.0" fill="#e0e0e0"/>
<rect x="369.5" y="614.2" width="5.2" height="5.2" fill="#161616"/>
<circle cx="371.9" cy="617.0" r="1.0" fill="#e0e0e0"/>
<rect x="382.3" y="601.4" width="5.2" height="5.2" fill="#161616"/>
<circle cx="385.1" cy="603.8" r="1.0" fill="#e0e0e0"/>
<rect x="382.3" y="614.2" width="5.2" height="5.2" fill="#161616"/>
<circle cx="385.1" cy="617.0" r="1.0" fill="#e0e0e0"/>
<circle cx="378.5" cy="610.4" r="5.6" fill="#fff" stroke="#222" stroke-width="1.0"/>
<circle cx="378.5" cy="610.4" r="3.6" fill="none" stroke="#444" stroke-width="0.8"/>
<circle cx="378.5" cy="610.4" r="1.4" fill="#222"/>
<path d="M344.6 610.4L370.0 610.4" stroke="#474747" stroke-width="0.9"/>
<path d="M344.6 701.3L356.7 701.3" stroke="#474747" stroke-width="0.9"/>
<path d="M344.6 610.4L344.6 701.3" stroke="#474747" stroke-width="0.9"/>
<path d="M344.6 610.4l-0.7 4.2h1.4z" fill="#3d1212" stroke="#3d1212" stroke-width="0.5"/>
<path d="M344.6 701.3l-0.7 -4.2h1.4z" fill="#3d1212" stroke="#3d1212" stroke-width="0.5"/>
<text x="343.2" y="653.4" font-size="8.4" text-anchor="middle" fill="#3c3c3c" transform="rotate(-90 343.2 653.4)">113.1</text>
<path d="M378.5 610.4L378.5 630.6" stroke="#474747" stroke-width="0.9"/>
<path d="M356.7 620.0L356.7 630.6" stroke="#474747" stroke-width="0.9"/>
<path d="M356.7 629.3L378.5 629.3" stroke="#474747" stroke-width="0.9"/>
<path d="M356.7 629.3l4.2 -0.7v1.4z" fill="#3d1212" stroke="#3d1212" stroke-width="0.5"/>
<path d="M378.5 629.3l-4.2 -0.7v1.4z" fill="#3d1212" stroke="#3d1212" stroke-width="0.5"/>
<text x="367.9" y="628.0" font-size="7.4" text-anchor="middle" fill="#3c3c3c">27</text>
</g>
<g id="back">
<rect x="442.6" y="566.0" width="136.6" height="135.3" rx="3" fill="#fff" stroke="#666" stroke-width="1.2"/>
<circle cx="447.4" cy="570.7" r="1.7" fill="#fff" stroke="#555" stroke-width="0.8"/>
<circle cx="573.9" cy="570.7" r="1.7" fill="#fff" stroke="#555" stroke-width="0.8"/>
<circle cx="447.4" cy="697.2" r="1.7" fill="#fff" stroke="#555" stroke-width="0.8"/>
<circle cx="573.9" cy="697.2" r="1.7" fill="#fff" stroke="#555" stroke-width="0.8"/>
<path d="M434.4 597.7L432.8 596.7L427.7 596.7L425.9 598.4V608.8L427.7 610.5L432.8 610.5L434.4 609.5Z" fill="url(#nl)" stroke="#161616" stroke-width="0.6"/>
<rect x="434.2" y="599.0" width="3.7" height="9.2" rx="0" fill="#fff" stroke="#333" stroke-width="0.8"/>
<rect x="437.7" y="594.4" width="4.7" height="18.4" rx="0" fill="#dcdcdc" stroke="#333" stroke-width="0.6"/>
<path d="M440.1 594.4L440.1 612.8" stroke="#555" stroke-width="0.5"/>
<rect x="437.7" y="594.4" width="2.4" height="4.2" rx="0" fill="#1c1c1c" stroke="#1c1c1c" stroke-width="0.5"/>
<rect x="437.7" y="608.6" width="2.4" height="4.2" rx="0" fill="#1c1c1c" stroke="#1c1c1c" stroke-width="0.5"/>
<path d="M434.4 645.8L432.8 644.8L427.7 644.8L425.9 646.5V656.9L427.7 658.6L432.8 658.6L434.4 657.6Z" fill="url(#nl)" stroke="#161616" stroke-width="0.6"/>
<rect x="434.2" y="647.1" width="3.7" height="9.2" rx="0" fill="#fff" stroke="#333" stroke-width="0.8"/>
<rect x="437.7" y="642.5" width="4.7" height="18.4" rx="0" fill="#dcdcdc" stroke="#333" stroke-width="0.6"/>
<path d="M440.1 642.5L440.1 660.9" stroke="#555" stroke-width="0.5"/>
<rect x="437.7" y="642.5" width="2.4" height="4.2" rx="0" fill="#1c1c1c" stroke="#1c1c1c" stroke-width="0.5"/>
<rect x="437.7" y="656.7" width="2.4" height="4.2" rx="0" fill="#1c1c1c" stroke="#1c1c1c" stroke-width="0.5"/>
<path d="M434.4 677.3L432.8 676.3L427.7 676.3L425.9 678.0V688.4L427.7 690.1L432.8 690.1L434.4 689.1Z" fill="url(#nl)" stroke="#161616" stroke-width="0.6"/>
<rect x="434.2" y="678.6" width="3.7" height="9.2" rx="0" fill="#fff" stroke="#333" stroke-width="0.8"/>
<rect x="437.7" y="674.0" width="4.7" height="18.4" rx="0" fill="#dcdcdc" stroke="#333" stroke-width="0.6"/>
<path d="M440.1 674.0L440.1 692.4" stroke="#555" stroke-width="0.5"/>
<rect x="437.7" y="674.0" width="2.4" height="4.2" rx="0" fill="#1c1c1c" stroke="#1c1c1c" stroke-width="0.5"/>
<rect x="437.7" y="688.2" width="2.4" height="4.2" rx="0" fill="#1c1c1c" stroke="#1c1c1c" stroke-width="0.5"/>
<path d="M587.4 604.5L589.0 603.5L594.1 603.5L595.9 605.2V615.6L594.1 617.3L589.0 617.3L587.4 616.3Z" fill="url(#nr)" stroke="#161616" stroke-width="0.6"/>
<rect x="583.9" y="605.8" width="3.7" height="9.2" rx="0" fill="#fff" stroke="#333" stroke-width="0.8"/>
<rect x="579.4" y="601.2" width="4.7" height="18.4" rx="0" fill="#dcdcdc" stroke="#333" stroke-width="0.6"/>
<path d="M581.7 601.2L581.7 619.6" stroke="#555" stroke-width="0.5"/>
<rect x="581.7" y="601.2" width="2.4" height="4.2" rx="0" fill="#1c1c1c" stroke="#1c1c1c" stroke-width="0.5"/>
<rect x="581.7" y="615.4" width="2.4" height="4.2" rx="0" fill="#1c1c1c" stroke="#1c1c1c" stroke-width="0.5"/>
<rect x="496.2" y="626.8" width="32.4" height="17.6" rx="2.6" fill="#fff" stroke="#3a3a3a" stroke-width="1.6"/>
<circle cx="502.2" cy="632.5" r="3.9" fill="#101010"/>
<path d="M506.9 630.1H525.7M506.9 634.4H525" stroke="#161616" stroke-width="2.1" stroke-dasharray="1.7 0.45"/>
<path d="M498.7 640H525.4" stroke="#1c1c1c" stroke-width="1.9" stroke-dasharray="1.5 0.4"/>
<text x="422.9" y="555.3" font-size="7.5" text-anchor="middle" fill="#2a2a2a" transform="translate(422.9 555.3) skewX(-8) translate(-422.9 -555.3)">4—ø4.59</text>
<path d="M409.6 556.5H436.4L452.6 577.6" stroke="#333" stroke-width="0.8"/>
<path d="M443.8 566.3L450.8 575.2" stroke="#3a1010" stroke-width="1.6"/>
</g>
</svg>
</div>
</body></html>
